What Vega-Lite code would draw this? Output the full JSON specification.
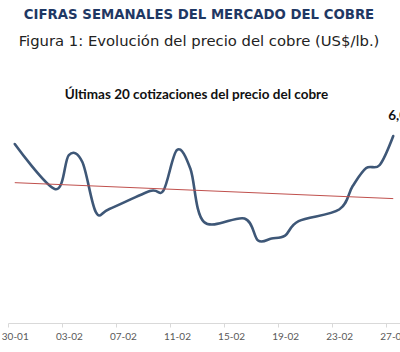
{
  "$schema": "https://vega.github.io/schema/vega-lite/v6.json",
  "width": 392,
  "height": 220,
  "autosize": {"type": "none"},
  "padding": {"left": 8, "top": 103, "right": 0, "bottom": 29},
  "background": "white",
  "title": {
    "text": "CIFRAS SEMANALES DEL MERCADO DEL COBRE",
    "subtitle": "Figura 1: Evolución del precio del cobre (US$/lb.)",
    "anchor": "middle",
    "frame": "group",
    "font": "DejaVu Sans",
    "fontSize": 13.3,
    "fontWeight": "bold",
    "color": "#1F3864",
    "subtitleFont": "DejaVu Sans",
    "subtitleFontSize": 14.8,
    "subtitleColor": "#222222",
    "subtitlePadding": 12.5,
    "offset": 38,
    "dx": -5
  },
  "config": {
    "view": {"stroke": null},
    "locale": {"number": {"decimal": ",", "thousands": ".", "grouping": [3], "currency": ["US$", ""]}}
  },
  "data": {
    "values": [
      {"date": "2026-01-30T12:00:00", "price": 5.976},
      {"date": "2026-02-02T12:00:00", "price": 5.730},
      {"date": "2026-02-03T12:00:00", "price": 5.916},
      {"date": "2026-02-04T12:00:00", "price": 5.878},
      {"date": "2026-02-05T12:00:00", "price": 5.605},
      {"date": "2026-02-06T12:00:00", "price": 5.622},
      {"date": "2026-02-09T12:00:00", "price": 5.720},
      {"date": "2026-02-10T12:00:00", "price": 5.723},
      {"date": "2026-02-11T12:00:00", "price": 5.944},
      {"date": "2026-02-12T12:00:00", "price": 5.840},
      {"date": "2026-02-13T12:00:00", "price": 5.551},
      {"date": "2026-02-16T12:00:00", "price": 5.570},
      {"date": "2026-02-17T12:00:00", "price": 5.450},
      {"date": "2026-02-18T12:00:00", "price": 5.461},
      {"date": "2026-02-19T12:00:00", "price": 5.477},
      {"date": "2026-02-20T12:00:00", "price": 5.556},
      {"date": "2026-02-23T12:00:00", "price": 5.619},
      {"date": "2026-02-24T12:00:00", "price": 5.747},
      {"date": "2026-02-25T12:00:00", "price": 5.845},
      {"date": "2026-02-26T12:00:00", "price": 5.862},
      {"date": "2026-02-27T12:00:00", "price": 6.020}
    ],
    "format": {"parse": {"date": "date"}}
  },
  "layer": [
    {
      "mark": {"type": "line", "interpolate": "cardinal", "color": "#3E5777", "strokeWidth": 2.6, "strokeCap": "round", "strokeJoin": "round"},
      "encoding": {
        "x": {
          "field": "date", "type": "temporal",
          "scale": {"domain": [{"year": 2026, "month": 1, "date": 30}, {"year": 2026, "month": 2, "date": 28}], "nice": false},
          "axis": {
            "orient": "bottom",
            "values": [
              {"year": 2026, "month": 1, "date": 30},
              {"year": 2026, "month": 2, "date": 3},
              {"year": 2026, "month": 2, "date": 7},
              {"year": 2026, "month": 2, "date": 11},
              {"year": 2026, "month": 2, "date": 15},
              {"year": 2026, "month": 2, "date": 19},
              {"year": 2026, "month": 2, "date": 23},
              {"year": 2026, "month": 2, "date": 27}
            ],
            "format": "%d-%m",
            "labelOffset": 6.76,
            "labelFont": "Lato",
            "labelFontSize": 10,
            "labelColor": "#595959",
            "labelPadding": 4,
            "labelFlush": false,
            "labelOverlap": false,
            "labelBound": false,
            "tickColor": "#D9D9D9",
            "tickSize": 4,
            "domainColor": "#D9D9D9",
            "grid": false,
            "title": null
          }
        },
        "y": {"field": "price", "type": "quantitative", "scale": {"domain": [5.0, 6.2], "zero": false, "nice": false}, "axis": null}
      }
    },
    {
      "transform": [{"regression": "price", "on": "date"}],
      "mark": {"type": "line", "color": "#C0504D", "strokeWidth": 1},
      "encoding": {
        "x": {
          "field": "date", "type": "temporal",
          "scale": {"domain": [{"year": 2026, "month": 1, "date": 30}, {"year": 2026, "month": 2, "date": 28}], "nice": false},
          "axis": {
            "orient": "top",
            "labels": false,
            "ticks": false,
            "domain": false,
            "grid": false,
            "title": "Últimas 20 cotizaciones del precio del cobre",
            "titleFont": "Lato",
            "titleFontSize": 13.5,
            "titleFontWeight": "bold",
            "titleColor": "#111111",
            "titleAlign": "center",
            "titleBaseline": "alphabetic",
            "titleX": 188,
            "titleY": -5
          }
        },
        "y": {"field": "price", "type": "quantitative", "scale": {"domain": [5.0, 6.2], "zero": false, "nice": false}, "axis": null}
      }
    },
    {
      "transform": [{"filter": "datum.date >= datetime(2026, 1, 27)"}],
      "mark": {"type": "text", "font": "Lato", "fontSize": 13.5, "fontWeight": "bold", "color": "#111111", "align": "left", "baseline": "alphabetic", "dx": -5, "dy": -16},
      "encoding": {
        "x": {"field": "date", "type": "temporal", "scale": {"domain": [{"year": 2026, "month": 1, "date": 30}, {"year": 2026, "month": 2, "date": 28}], "nice": false}, "axis": null},
        "y": {"field": "price", "type": "quantitative", "scale": {"domain": [5.0, 6.2], "zero": false, "nice": false}, "axis": null},
        "text": {"field": "price", "type": "quantitative", "format": ".2f"}
      }
    }
  ],
  "resolve": {"axis": {"x": "independent"}}
}
